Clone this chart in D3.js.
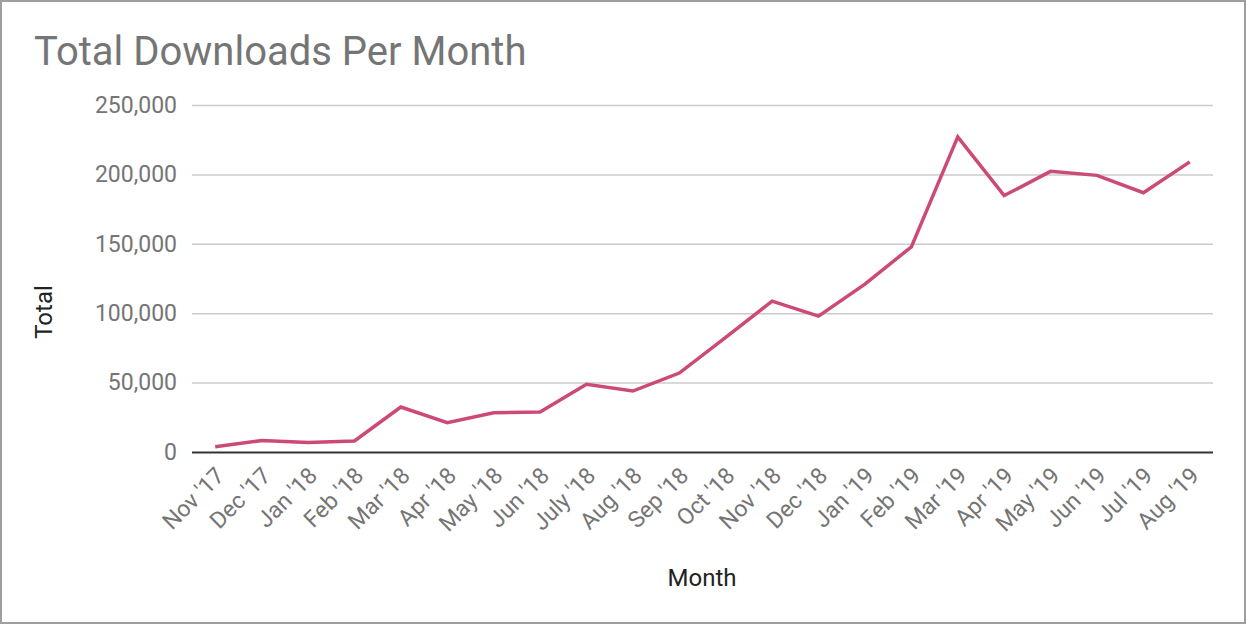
<!DOCTYPE html>
<html>
<head>
<meta charset="utf-8">
<script src="https://cdn.jsdelivr.net/npm/d3@7"></script>
<style>
  body { margin: 0; background: #fff; }
  svg { display: block; font-family: Roboto, sans-serif; }
</style>
</head>
<body>
<div id="chart"></div>
<script>
const months = ["Nov '17", "Dec '17", "Jan '18", "Feb '18", "Mar '18", "Apr '18", "May '18",
  "Jun '18", "July '18", "Aug '18", "Sep '18", "Oct '18", "Nov '18", "Dec '18", "Jan '19",
  "Feb '19", "Mar '19", "Apr '19", "May '19", "Jun '19", "Jul '19", "Aug '19"];
const totals = [3800, 8200, 6800, 7900, 32400, 21100, 28300, 28800, 48800, 43900, 56900,
  82600, 108700, 97900, 120900, 147800, 227000, 184700, 202200, 199300, 186800, 209000];
const yTicks = [0, 50000, 100000, 150000, 200000, 250000];

const W = 1246, H = 624;
const margin = {top: 105, right: 33, bottom: 172, left: 192};
const width = W - margin.left - margin.right,
  height = H - margin.top - margin.bottom;

const svg = d3.select("#chart")
  .append("svg")
  .attr("width", W)
  .attr("height", H);

// outer frame
svg.append("rect")
  .attr("x", 1).attr("y", 1)
  .attr("width", W - 2).attr("height", H - 2)
  .attr("fill", "#fff")
  .attr("stroke", "#9e9e9e")
  .attr("stroke-width", 2);

svg.append("text")
  .attr("x", 34).attr("y", 65)
  .attr("font-size", 40)
  .attr("fill", "#757575")
  .text("Total Downloads Per Month");

const g = svg.append("g")
  .attr("transform", `translate(${margin.left},${margin.top})`);

const x = d3.scalePoint()
  .domain(months)
  .range([0, width])
  .padding(0.5);

const y = d3.scaleLinear()
  .domain([0, 250000])
  .range([height, 0]);

// gridlines + y labels
const yAxis = g.append("g")
  .call(d3.axisLeft(y).tickValues(yTicks).tickSize(-width).tickPadding(15)
    .tickFormat(d3.format(",")));
yAxis.select(".domain").remove();
yAxis.selectAll(".tick line")
  .attr("stroke", d => d === 0 ? "#333" : "#ccc")
  .attr("stroke-width", d => d === 0 ? 2 : 1.5);
yAxis.selectAll(".tick text")
  .attr("font-size", 23)
  .attr("fill", "#757575")
  .attr("font-family", "Roboto, sans-serif");

// x labels
const xAxis = g.append("g")
  .attr("transform", `translate(0,${height})`)
  .call(d3.axisBottom(x).tickSize(0).tickPadding(0));
xAxis.select(".domain").remove();
xAxis.selectAll(".tick text")
  .attr("font-size", 23)
  .attr("fill", "#757575")
  .attr("font-family", "Roboto, sans-serif")
  .attr("text-anchor", "end")
  .attr("dy", null)
  .attr("transform", "translate(10,25) rotate(-45)");

const line = d3.line()
  .x((d, i) => x(months[i]))
  .y(d => y(d));

g.append("path")
  .datum(totals)
  .attr("fill", "none")
  .attr("stroke", "#cc4a78")
  .attr("stroke-width", 3.5)
  .attr("stroke-linejoin", "miter")
  .attr("d", line);

// axis titles
svg.append("text")
  .attr("transform", "translate(52,312) rotate(-90)")
  .attr("text-anchor", "middle")
  .attr("font-size", 24)
  .attr("fill", "#222")
  .text("Total");

svg.append("text")
  .attr("x", 702).attr("y", 586)
  .attr("text-anchor", "middle")
  .attr("font-size", 24)
  .attr("fill", "#222")
  .text("Month");
</script>
</body>
</html>
